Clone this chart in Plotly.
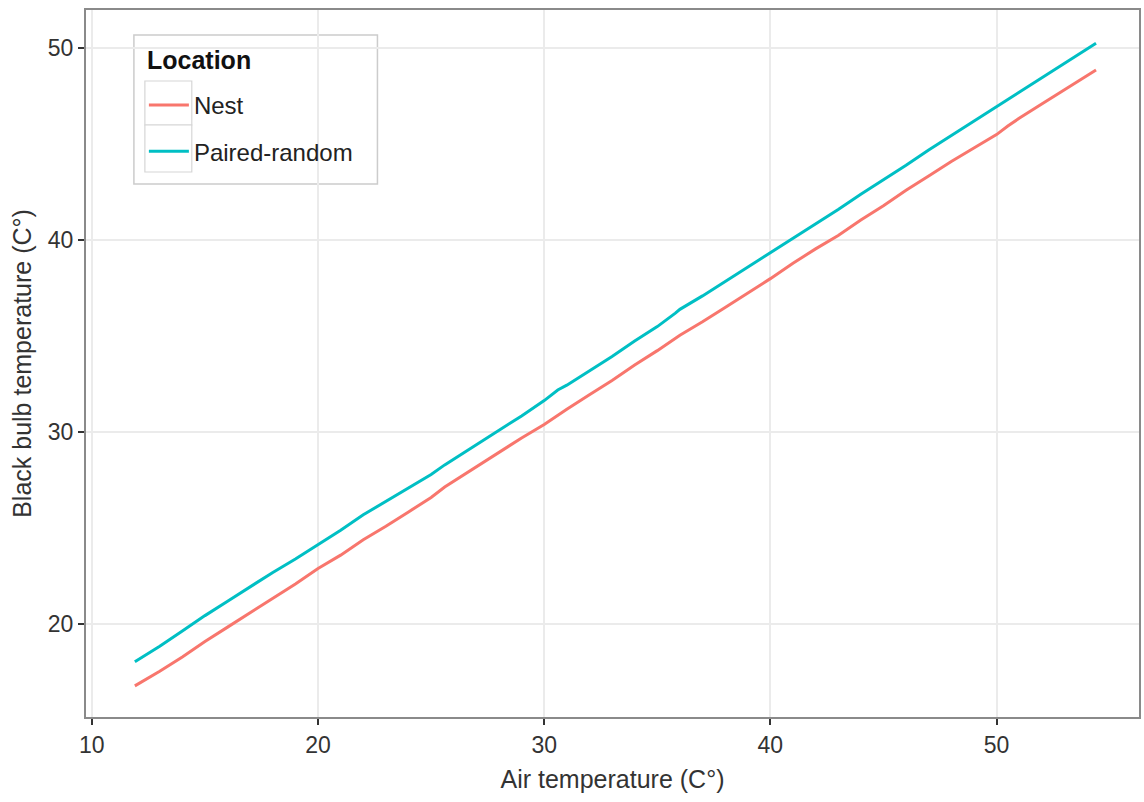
import plotly.graph_objects as go

# Smoothed black-bulb temperature against air temperature, by location
nest_air = [11.9, 13, 14, 15, 16, 17, 18, 19, 20, 21, 22, 23, 24, 25, 25.6, 26, 27, 28, 29, 30,
            31, 32, 33, 34, 35, 36, 37, 38, 39, 40, 41, 42, 43, 44, 45, 46, 47, 48, 49, 50,
            50.5, 51, 52, 53, 54.4]
nest_bulb = [16.79, 17.55, 18.3, 19.1, 19.85, 20.6, 21.35, 22.1, 22.9, 23.6, 24.4, 25.1, 25.85, 26.6,
             27.15, 27.45, 28.2, 28.95, 29.7, 30.4, 31.2, 31.95, 32.7, 33.5, 34.25, 35.05, 35.75,
             36.5, 37.25, 38.0, 38.8, 39.55, 40.25, 41.05, 41.8, 42.6, 43.35, 44.1, 44.8, 45.5,
             45.95, 46.35, 47.1, 47.85, 48.86]

paired_air = [11.9, 13, 14, 15, 16, 17, 18, 19, 20, 21, 22, 23, 24, 25, 25.6, 26, 27, 28, 29, 30,
              30.6, 31, 32, 33, 34, 35, 35.8, 36, 37, 38, 39, 40, 41, 42, 43, 44, 45, 46, 47, 48,
              49, 50, 51, 52, 53, 54.4]
paired_bulb = [18.05, 18.85, 19.65, 20.45, 21.2, 21.95, 22.7, 23.4, 24.15, 24.9, 25.7, 26.4, 27.1,
               27.8, 28.3, 28.6, 29.35, 30.1, 30.85, 31.65, 32.2, 32.45, 33.2, 33.95, 34.75, 35.5,
               36.2, 36.4, 37.1, 37.85, 38.6, 39.35, 40.1, 40.85, 41.6, 42.4, 43.15, 43.9, 44.7,
               45.45, 46.2, 46.95, 47.7, 48.45, 49.2, 50.26]

x_ticks = [10, 20, 30, 40, 50]
y_ticks = [20, 30, 40, 50]

FONT = "Liberation Sans, Arial, sans-serif"

# plot-area geometry in pixels, used to place the legend frame
W, H = 1144, 802
ML, MR, MT, MB = 86, 3, 10, 85
PW, PH = W - ML - MR, H - MT - MB


def px_x(p):
    return (p - ML) / PW


def px_y(p):
    return (H - MB - p) / PH


fig = go.Figure()
fig.add_trace(go.Scatter(x=nest_air, y=nest_bulb, mode="lines", name="Nest",
                         legendgroup="nest",
                         line=dict(color="#F8766D", width=3)))
fig.add_trace(go.Scatter(x=paired_air, y=paired_bulb, mode="lines", name="Paired-random",
                         legendgroup="paired",
                         line=dict(color="#00BFC4", width=3)))

axis_common = dict(
    showgrid=True, gridcolor="#ebebeb", gridwidth=1.5,
    showline=True, linecolor="#8a8a8a", linewidth=2, mirror=True,
    ticks="outside", ticklen=6, tickwidth=1.5, tickcolor="#333333",
    tickfont=dict(family=FONT, size=23, color="#333333"),
    zeroline=False,
)

fig.update_xaxes(range=[9.74, 56.3], tickvals=x_ticks,
                 title=dict(text="Air temperature (C°)", font=dict(family=FONT, size=25, color="#333333"),
                            standoff=14),
                 **axis_common)
fig.update_yaxes(range=[15.17, 51.99], tickvals=y_ticks,
                 title=dict(text="Black bulb temperature (C°)", font=dict(family=FONT, size=25, color="#333333"),
                            standoff=9),
                 **axis_common)

# legend frame and key boxes
shapes = [
    dict(type="rect", xref="paper", yref="paper", layer="between",
         x0=px_x(134), x1=px_x(378), y0=px_y(184), y1=px_y(35),
         fillcolor="white", line=dict(color="#cccccc", width=1.5)),
    dict(type="rect", xref="paper", yref="paper", layer="between",
         x0=px_x(145), x1=px_x(192), y0=px_y(125), y1=px_y(81),
         fillcolor="white", line=dict(color="#d6d6d6", width=1.2)),
    dict(type="rect", xref="paper", yref="paper", layer="between",
         x0=px_x(145), x1=px_x(192), y0=px_y(172), y1=px_y(125),
         fillcolor="white", line=dict(color="#d6d6d6", width=1.2)),
]

annotations = [
    dict(text="<b>Location</b>", xref="paper", yref="paper",
         x=px_x(145), y=px_y(60), xanchor="left", yanchor="middle", showarrow=False,
         font=dict(family=FONT, size=25, color="#111111")),
]

fig.update_layout(
    width=W, height=H,
    margin=dict(l=ML, r=MR, t=MT, b=MB),
    paper_bgcolor="white", plot_bgcolor="white",
    font=dict(family=FONT, color="#222222"),
    shapes=shapes,
    annotations=annotations,
    showlegend=True,
    legend=dict(
        font=dict(family=FONT, size=24, color="#222222"),
        x=px_x(144), y=px_y(83), xanchor="left", yanchor="top",
        bgcolor="rgba(0,0,0,0)", borderwidth=0,
        traceorder="grouped", tracegroupgap=12,
        itemwidth=40,
    ),
)

fig.write_html("out.html")
